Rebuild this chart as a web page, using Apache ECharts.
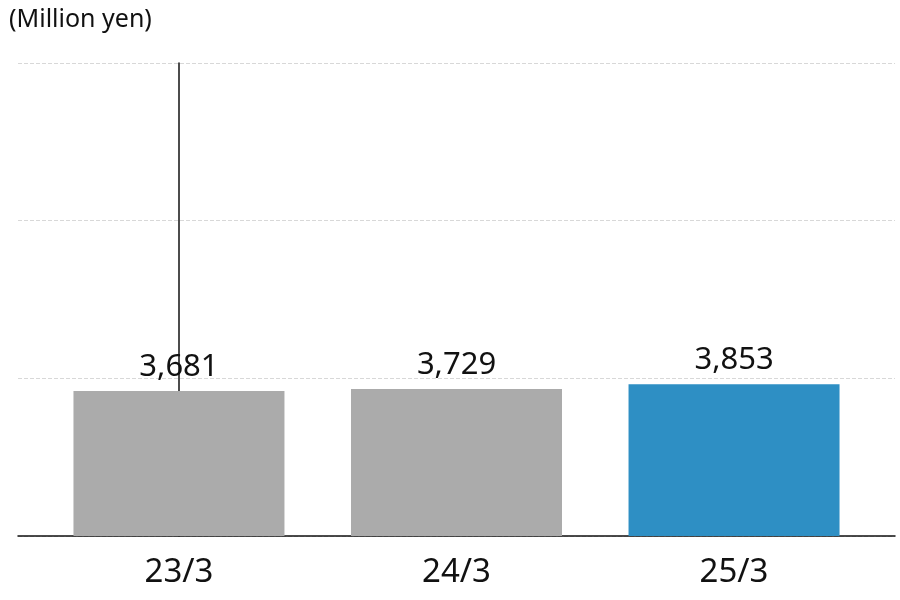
<!DOCTYPE html>
<html><head><meta charset="utf-8">
<script src="https://cdn.jsdelivr.net/npm/echarts@6/dist/echarts.min.js"></script>
<style>html,body{margin:0;background:#fff}#c{width:900px;height:600px}</style>
</head><body><div id="c"></div>
<script>
const categories = ['23/3','24/3','25/3'];
const values = [3681, 3729, 3853];
const colors = ['#ababab','#ababab','#2e8fc4'];
const chart = echarts.init(document.getElementById('c'));
chart.setOption({
  animation:false,
  textStyle:{fontFamily:'Noto Sans'},
  title:{text:'(Million yen)',left:4,top:2,textStyle:{fontSize:25,fontWeight:'normal',color:'#111',fontFamily:'Noto Sans'}},
  grid:{left:18,right:5,top:63,bottom:64},
  xAxis:{type:'value',min:-0.58,max:2.58,
    axisLine:{show:true,lineStyle:{color:'#111',width:1.5}},axisTick:{show:false},splitLine:{show:false},
    axisLabel:{customValues:[0,1,2],formatter:v=>categories[Math.round(v)],fontSize:33,color:'#111',margin:20}},
  yAxis:{type:'value',min:0,max:12000,interval:4000,
    axisLine:{show:true,lineStyle:{color:'#111',width:1.5}},axisLabel:{show:false},axisTick:{show:false},
    splitLine:{lineStyle:{type:'dashed',color:'#d8d8d8'}}},
  series:[{type:'bar',barWidth:211,
    data:values.map((v,i)=>({value:[i,v],itemStyle:{color:colors[i]}})),
    label:{show:true,position:'top',fontSize:31,color:'#111',distance:8,
      formatter:p=>p.value[1].toLocaleString('en-US')}}]
});
</script></body></html>
